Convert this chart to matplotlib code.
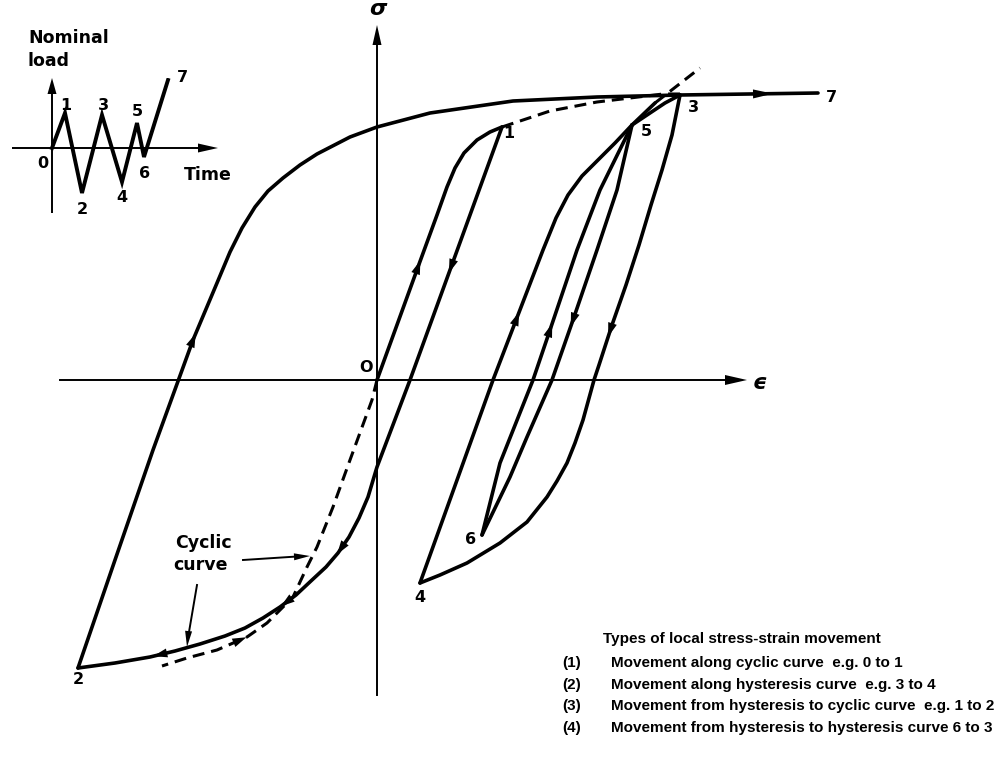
import numpy as np
import matplotlib
matplotlib.use("Agg")
import matplotlib.pyplot as plt
from matplotlib.patches import Polygon

plt.rcParams['lines.scale_dashes'] = False

# stress-strain branches (strain, stress) in arbitrary units
e_23 = [-2.99, -2.62, -2.24, -1.84, -1.60, -1.47, -1.35, -1.22, -1.09, -0.94, -0.77, -0.60, -0.27, 0.00, 0.53, 1.36, 2.20, 3.03]
s_23 = [-2.88, -1.80, -0.70, 0.40, 0.97, 1.28, 1.52, 1.73, 1.89, 2.02, 2.15, 2.26, 2.43, 2.53, 2.67, 2.79, 2.83, 2.85]

e_01 = [0.00, 0.41, 0.60, 0.70, 0.78, 0.87, 1.00, 1.13, 1.25]
s_01 = [0.00, 1.13, 1.65, 1.93, 2.12, 2.27, 2.40, 2.48, 2.53]

e_12 = [1.25, 0.33, 0.00, -0.09, -0.18, -0.28, -0.39, -0.51, -0.65, -0.81, -0.97, -1.14, -1.32, -1.52, -1.77, -2.02, -2.27, -2.62, -2.99]
s_12 = [2.53, 0.00, -0.87, -1.17, -1.38, -1.57, -1.73, -1.87, -2.00, -2.15, -2.27, -2.38, -2.48, -2.56, -2.64, -2.71, -2.77, -2.83, -2.88]

e_34 = [3.03, 2.95, 2.85, 2.74, 2.62, 2.49, 2.35, 2.22, 2.17, 2.06, 1.98, 1.90, 1.80, 1.70, 1.50, 1.23, 0.90, 0.63, 0.43]
s_34 = [2.85, 2.45, 2.10, 1.75, 1.35, 0.95, 0.55, 0.15, 0.00, -0.40, -0.63, -0.83, -1.01, -1.17, -1.42, -1.63, -1.83, -1.95, -2.03]

e_45 = [0.43, 1.16, 1.66, 1.79, 1.91, 2.05, 2.21, 2.38, 2.55]
s_45 = [-2.03, 0.00, 1.30, 1.62, 1.85, 2.04, 2.20, 2.37, 2.55]

e_53 = [2.55, 2.73, 2.88, 3.03]
s_53 = [2.55, 2.67, 2.77, 2.85]

e_56 = [2.55, 2.40, 2.20, 1.96, 1.75, 1.50, 1.33, 1.05]
s_56 = [2.55, 1.90, 1.30, 0.60, 0.00, -0.57, -0.97, -1.55]

e_63 = [1.05, 1.23, 1.56, 1.73, 2.00, 2.23, 2.55]
s_63 = [-1.55, -0.83, 0.00, 0.50, 1.30, 1.90, 2.55]

e_37 = [3.03, 4.41]
s_37 = [2.85, 2.87]

e_5x = [2.55, 2.78]
s_5x = [2.55, 2.77]

# cyclic stress-strain curve (dashed)
e_cyc_lo = [0.00, -0.05, -0.27, -0.44, -0.60, -0.70, -0.84, -1.10, -1.30, -1.60, -1.90, -2.15]
s_cyc_lo = [0.00, -0.20, -0.80, -1.27, -1.67, -1.87, -2.17, -2.43, -2.57, -2.70, -2.78, -2.86]
e_cyc_hi = [1.25, 1.73, 2.20, 2.53, 2.86, 3.03]
s_cyc_hi = [2.53, 2.69, 2.78, 2.82, 2.86, 2.86]
e_cyc_ext = [2.78, 3.23]
s_cyc_ext = [2.77, 3.12]

# nominal load history for the small sketch
load_t = [0, 1.3, 3.0, 5.0, 7.0, 8.5, 9.2, 11.6]
load_v = [0, 3.5, -4.5, 3.3, -3.4, 2.5, -0.9, 6.8]
load_names = ['0', '1', '2', '3', '4', '5', '6', '7']

legend_lines = [
    ('(1)', 'Movement along cyclic curve  e.g. 0 to 1'),
    ('(2)', 'Movement along hysteresis curve  e.g. 3 to 4'),
    ('(3)', 'Movement from hysteresis to cyclic curve  e.g. 1 to 2'),
    ('(4)', 'Movement from hysteresis to hysteresis curve 6 to 3'),
]

LW = 2.6
BOLD = dict(family='DejaVu Sans', fontweight='bold')
ARIAL = dict(family='Liberation Sans', fontweight='bold')


def head_at(ax, tip, u, length, width):
    u = np.asarray(u, float)
    u = u / np.linalg.norm(u)
    n = np.array([-u[1], u[0]])
    tip = np.asarray(tip, float)
    base = tip - u * length
    ax.add_patch(Polygon([tip, base + n * width, base - n * width],
                         closed=True, color='black', lw=0, zorder=5))


def arrow_on(ax, ex, ey, px, py, backwards=False, length=0.14, width=0.045):
    pts = np.column_stack([ex, ey])
    p = np.array([px, py])
    best = None
    for a, b in zip(pts[:-1], pts[1:]):
        ab = b - a
        t = np.clip(np.dot(p - a, ab) / np.dot(ab, ab), 0, 1)
        q = a + t * ab
        d = np.linalg.norm(q - p)
        if best is None or d < best[0]:
            best = (d, q, ab / np.linalg.norm(ab))
    _, q, u = best
    if backwards:
        u = -u
    head_at(ax, q + u * length / 2, u, length, width)


fig = plt.figure(figsize=(10.03, 7.77), dpi=100)
ax = fig.add_axes([0, 0, 1, 1])
ax.set_xlim(-3.77, 6.26)
ax.set_ylim(-3.97, 3.80)
ax.axis('off')

# sigma / epsilon axes
ax.plot([-3.17, 3.60], [0, 0], color='black', lw=1.4)
head_at(ax, (3.70, 0), (1, 0), 0.22, 0.05)
ax.plot([0, 0], [-3.15, 3.45], color='black', lw=1.4)
head_at(ax, (0, 3.55), (0, 1), 0.20, 0.045)
ax.text(0.01, 3.71, '\u03c3', fontsize=16, ha='center', va='center',
        family='DejaVu Sans', fontweight='bold', style='italic')
ax.text(3.82, -0.03, '\u03f5', fontsize=16, ha='center', va='center',
        family='DejaVu Sans', fontweight='bold', style='italic')
ax.text(-0.11, 0.13, 'O', fontsize=11.5, ha='center', va='center', **BOLD)

# solid branches
for ex, ey in [(e_23, s_23), (e_01, s_01), (e_12, s_12), (e_34, s_34),
               (e_45, s_45), (e_53, s_53), (e_56, s_56), (e_63, s_63),
               (e_37, s_37), (e_5x, s_5x)]:
    ax.plot(ex, ey, color='black', lw=LW, solid_joinstyle='round',
            solid_capstyle='round')

# dashed cyclic curve
for ex, ey in [(e_cyc_lo, s_cyc_lo), (e_cyc_hi, s_cyc_hi), (e_cyc_ext, s_cyc_ext)]:
    ax.plot(ex, ey, color='black', lw=2.2, dashes=(8.6, 5.0))

# direction arrows
arrow_on(ax, e_23, s_23, -1.84, 0.40)
arrow_on(ax, e_01, s_01, 0.41, 1.13)
arrow_on(ax, e_12, s_12, 0.76, 1.13)
arrow_on(ax, e_12, s_12, -0.34, -1.70)
arrow_on(ax, e_12, s_12, -0.90, -2.23)
arrow_on(ax, e_12, s_12, -2.17, -2.74)
arrow_on(ax, e_cyc_lo, s_cyc_lo, -1.37, -2.60, backwards=True)
arrow_on(ax, e_34, s_34, 2.33, 0.50)
arrow_on(ax, e_45, s_45, 1.36, 0.63)
arrow_on(ax, e_56, s_56, 1.96, 0.60)
arrow_on(ax, e_63, s_63, 1.73, 0.50)
arrow_on(ax, e_37, s_37, 3.86, 2.87, length=0.2)

# turning point labels
for name, x, y in [('1', 1.32, 2.46), ('3', 3.16, 2.72), ('5', 2.69, 2.48),
                   ('7', 4.54, 2.83), ('2', -2.99, -3.00), ('4', 0.43, -2.17),
                   ('6', 0.94, -1.60)]:
    ax.text(x, y, name, fontsize=11.5, ha='center', va='center', **BOLD)

# cyclic curve callout
ax.text(-1.74, -1.63, 'Cyclic', fontsize=12.5, ha='center', va='center', **BOLD)
ax.text(-1.77, -1.85, 'curve', fontsize=12.5, ha='center', va='center', **BOLD)
ax.plot([-1.34, -0.80], [-1.80, -1.765], color='black', lw=1.4)
head_at(ax, (-0.67, -1.76), (1, 0.05), 0.16, 0.035)
ax.plot([-1.80, -1.88], [-2.05, -2.52], color='black', lw=1.4)
head_at(ax, (-1.90, -2.67), (-0.1, -1), 0.16, 0.035)

# legend text
ax.text(2.26, -2.59, 'Types of local stress-strain movement', fontsize=11,
        ha='left', va='center', **ARIAL)
for k, (num, txt) in enumerate(legend_lines):
    y = -2.83 - 0.217 * k
    ax.text(1.85, y, num, fontsize=11, ha='left', va='center', **ARIAL)
    ax.text(2.34, y, txt, fontsize=11, ha='left', va='center', **ARIAL)

# nominal load history sketch
ins = fig.add_axes([12 / 1003, 1 - 213 / 777, 206 / 1003, 135 / 777])
ins.set_xlim(-4.0, 16.6)
ins.set_ylim(-6.5, 7.0)
ins.axis('off')
ins.plot([-4.0, 15.0], [0, 0], color='black', lw=1.4)
head_at(ins, (16.6, 0), (1, 0), 2.0, 0.45)
ins.plot([0, 0], [-6.5, 5.5], color='black', lw=1.4)
head_at(ins, (0, 7.0), (0, 1), 1.6, 0.45)
ins.plot(load_t, load_v, color='black', lw=2.8, solid_joinstyle='miter')
for name, x, y in zip(load_names,
                      [-0.9, 1.4, 3.0, 5.1, 7.0, 8.5, 9.3, 13.0],
                      [-1.5, 4.3, -6.2, 4.3, -4.9, 3.6, -2.5, 7.0]):
    ins.text(x, y, name, fontsize=11.5, ha='center', va='center', clip_on=False, **BOLD)
ins.text(15.6, -2.7, 'Time', fontsize=12.5, ha='center', va='center', **BOLD)
ins.text(-2.4, 11.0, 'Nominal', fontsize=12.5, ha='left', va='center', **BOLD)
ins.text(-2.4, 8.7, 'load', fontsize=12.5, ha='left', va='center', **BOLD)

fig.savefig('out.png', dpi=100)
